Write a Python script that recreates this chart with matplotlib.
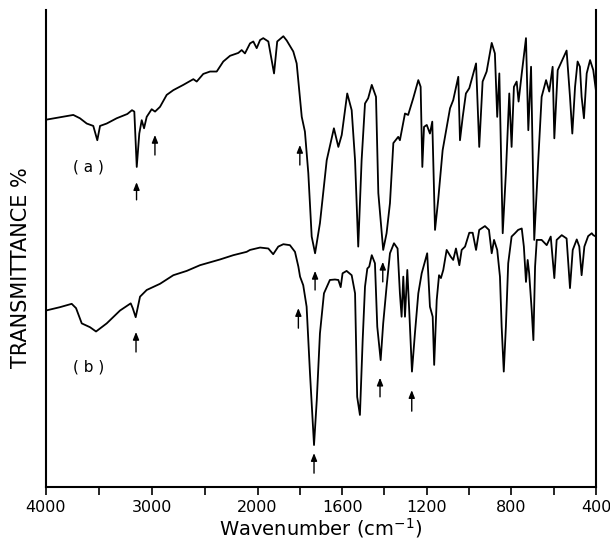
import numpy as np
import matplotlib
matplotlib.use("Agg")
import matplotlib.pyplot as plt

# ---- data ----
wn_a = [4000, 3868, 3742, 3679, 3615, 3553, 3515, 3489, 3426, 3332, 3231, 3187, 3165, 3142, 3118,
        3095, 3073, 3048, 3001, 2969, 2922, 2859, 2796, 2702, 2607, 2575, 2513, 2449, 2386, 2324,
        2260, 2182, 2150, 2119, 2071, 2040, 2008, 1988, 1973, 1949, 1922, 1907, 1878, 1862, 1831,
        1815, 1791, 1776, 1760, 1744, 1728, 1705, 1673, 1639, 1618, 1602, 1576, 1555, 1539, 1524,
        1508, 1492, 1477, 1460, 1440, 1429, 1406, 1390, 1374, 1358, 1335, 1327, 1303, 1288, 1264,
        1240, 1229, 1221, 1213, 1200, 1185, 1174, 1161, 1146, 1125, 1090, 1075, 1051, 1043, 1030,
        1015, 999, 967, 952, 936, 917, 893, 878, 867, 857, 841, 826, 810, 799, 788,
        775, 766, 751, 731, 720, 707, 692, 673, 657, 636, 621, 605, 597, 581, 539,
        523, 512, 499, 487, 476, 468, 457, 444, 428, 413, 400]
t_a = [77.0, 77.5, 78.0, 77.3, 76.2, 75.7, 72.7, 75.7, 76.2, 77.3, 78.2, 79.0, 78.7, 67.1, 74.1,
       76.9, 75.2, 77.6, 79.2, 78.7, 79.7, 82.2, 83.2, 84.3, 85.5, 85.0, 86.6, 87.1, 87.1, 89.2,
       90.4, 91.0, 91.6, 90.9, 93.0, 93.4, 92.0, 93.7, 94.1, 93.4, 86.7, 93.4, 94.5, 93.6, 91.3,
       88.8, 77.6, 74.5, 65.8, 52.5, 49.0, 55.3, 68.5, 75.2, 71.3, 73.8, 82.5, 79.0, 68.5, 50.4,
       68.5, 80.4, 81.5, 84.3, 81.8, 61.6, 49.7, 53.2, 59.5, 72.1, 73.4, 72.7, 78.3, 78.0, 81.5,
       85.3, 83.9, 67.1, 75.5, 75.9, 74.1, 76.6, 53.9, 60.2, 70.6, 79.4, 81.1, 86.0, 72.7, 77.6,
       82.5, 83.6, 88.8, 71.3, 85.0, 87.1, 93.1, 90.9, 77.6, 86.7, 53.2, 65.8, 82.5, 71.3, 83.9,
       85.0, 80.8, 86.7, 94.1, 74.8, 88.1, 51.8, 68.5, 81.8, 85.3, 82.9, 88.1, 73.1, 87.4, 91.5,
       81.8, 74.1, 83.9, 89.2, 88.1, 81.8, 77.3, 86.7, 89.5, 87.4, 83.0]

wn_b = [4000, 3868, 3757, 3716, 3662, 3584, 3527, 3426, 3300, 3199, 3180, 3152, 3111, 3048, 2922,
        2796, 2670, 2544, 2355, 2229, 2103, 2071, 1988, 1949, 1926, 1902, 1878, 1847, 1823, 1807,
        1799, 1784, 1768, 1752, 1733, 1720, 1705, 1686, 1658, 1634, 1618, 1607, 1598, 1579, 1555,
        1539, 1529, 1516, 1503, 1492, 1481, 1472, 1460, 1445, 1434, 1418, 1406, 1390, 1374, 1355,
        1338, 1327, 1319, 1311, 1303, 1292, 1283, 1270, 1256, 1240, 1224, 1198, 1185, 1172, 1165,
        1153, 1142, 1133, 1122, 1106, 1087, 1075, 1062, 1046, 1035, 1019, 999, 983, 967, 952,
        925, 906, 893, 882, 867, 854, 846, 836, 826, 815, 799, 783, 768, 751, 741,
        731, 723, 716, 704, 696, 688, 680, 657, 633, 614, 597, 586, 562, 539, 523,
        510, 491, 479, 468, 455, 437, 420, 413, 400]
t_b = [37.0, 37.7, 38.4, 37.5, 34.3, 33.5, 32.6, 34.3, 37.0, 38.5, 37.5, 35.6, 39.9, 41.3, 42.6,
       44.4, 45.3, 46.5, 47.7, 48.6, 49.3, 49.7, 50.2, 50.0, 48.8, 50.4, 50.9, 50.7, 49.3, 46.2,
       44.1, 42.3, 37.8, 23.8, 8.8, 18.2, 32.2, 40.6, 43.4, 43.5, 43.4, 41.9, 44.8, 45.3, 44.4,
       40.6, 18.9, 15.1, 30.8, 42.0, 45.8, 46.2, 48.6, 46.9, 33.6, 26.6, 34.3, 42.0, 49.0, 51.1,
       50.0, 40.6, 35.7, 44.1, 35.7, 45.5, 37.1, 24.2, 32.2, 40.6, 44.8, 49.0, 37.8, 35.7, 25.6,
       39.2, 44.4, 43.8, 45.5, 49.7, 48.3, 47.6, 50.0, 46.5, 49.7, 50.4, 53.3, 53.3, 49.7, 53.9,
       54.7, 53.9, 49.0, 51.8, 49.7, 44.1, 33.6, 24.2, 33.6, 46.9, 52.5, 53.2, 53.9, 54.2, 50.4,
       43.0, 47.6, 44.8, 37.1, 30.8, 46.2, 51.8, 51.8, 50.7, 52.5, 43.8, 51.8, 52.8, 52.1, 41.7,
       49.7, 51.9, 50.4, 44.4, 50.4, 52.6, 53.2, 52.8, 52.5]

# arrows: wavenumber, tail T, head T
arrows_a = [(3144, 60.2, 63.9), (2970, 69.6, 73.8), (1800, 67.5, 71.7), (1728, 41.3, 45.3), (1408, 43.0, 47.2)]
arrows_b = [(3149, 28.3, 32.5), (1807, 33.3, 37.5), (1733, 2.9, 7.1), (1421, 18.9, 22.9), (1271, 15.9, 20.3)]

major_ticks = [4000, 3000, 2000, 1600, 1200, 800, 400]
minor_ticks = [3500, 2500, 1800, 1400, 1000, 600]
tick_labels = ["4000", "3000", "2000", "1600", "1200", "800", "400"]


def fwd(w):
    w = np.asarray(w, dtype=float)
    return np.where(w <= 2000, w, 2000 + (w - 2000) / 2.0)


def inv(u):
    u = np.asarray(u, dtype=float)
    return np.where(u <= 2000, u, 2000 + 2.0 * (u - 2000))


fig = plt.figure(figsize=(6.1, 5.4), dpi=100)
ax = fig.add_axes([46 / 610, 53 / 540, 550 / 610, 477 / 540])
ax.set_xscale('function', functions=(fwd, inv))

ax.plot(wn_a, t_a, color='black', lw=1.3)
ax.plot(wn_b, t_b, color='black', lw=1.3)

for w, y0, y1 in arrows_a + arrows_b:
    ax.annotate('', xy=(w, y1), xytext=(w, y0),
                arrowprops=dict(arrowstyle='-|>,head_length=0.45,head_width=0.18',
                                color='black', lw=1.0, shrinkA=0, shrinkB=0))

ax.text(3600, 67.1, '( a )', fontsize=11, ha='center', va='center')
ax.text(3600, 25.2, '( b )', fontsize=11, ha='center', va='center')

ax.set_xlim(4000, 400)
ax.set_ylim(0, 100)
ax.set_xticks(major_ticks)
ax.set_xticklabels(tick_labels, fontsize=11.5)
ax.set_xticks(minor_ticks, minor=True)
ax.tick_params(axis='x', which='both', direction='out', length=6, width=1.2, pad=3)
ax.set_yticks([])
ax.spines['top'].set_visible(False)
for s in ['left', 'right', 'bottom']:
    ax.spines[s].set_linewidth(1.5)

ax.set_xlabel('Wavenumber (cm$^{-1}$)', fontsize=14, labelpad=1)
ax.set_ylabel('TRANSMITTANCE %', fontsize=15)
ax.yaxis.set_label_coords(-0.028, 0.46)

fig.savefig('out.png', dpi=100)
